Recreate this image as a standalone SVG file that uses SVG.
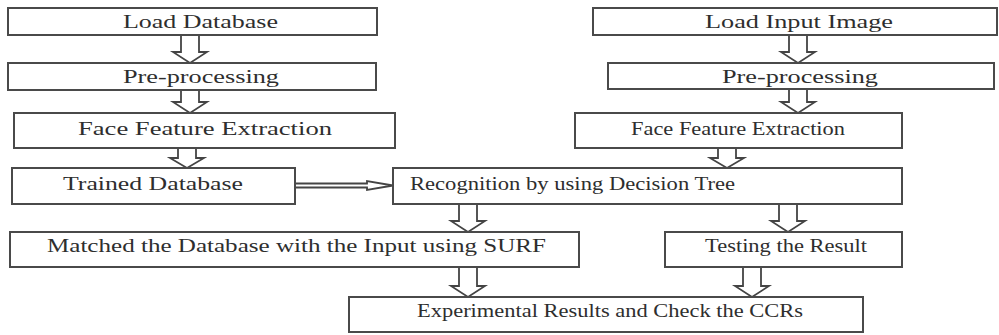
<svg xmlns="http://www.w3.org/2000/svg" width="999" height="335" viewBox="0 0 999 335">
  <style>
    .box { fill: #ffffff; stroke: #4a4a4a; stroke-width: 2; }
    .lbl { font-family: "Liberation Serif", "Times New Roman", serif; font-size: 18px; fill: #2e2e2e; }
    .arw { fill: #ffffff; stroke: #444444; stroke-width: 1.8; stroke-linejoin: miter; }
  </style>
  <rect width="999" height="335" fill="#ffffff"/>

  <!-- block arrows between steps -->
  <g id="connectors">
    <!-- left column -->
    <path class="arw" d="M181,35 V52 H173 L190,63 L207,52 H199 V35"/>
    <path class="arw" d="M181,90 V102 H173 L190,113 L207,102 H199 V90"/>
    <path class="arw" d="M178,148 V158 H170 L187,168 L204,158 H196 V148"/>
    <!-- trained database to recognition -->
    <path class="arw" stroke-width="1.5" d="M295,183.5 H367 V181 L393,185.5 L367,190 V187.5 H295"/>
    <!-- right column -->
    <path class="arw" d="M789,35 V52 H781 L798,63 L815,52 H807 V35"/>
    <path class="arw" d="M789,89 V102 H781 L798,113 L815,102 H807 V89"/>
    <path class="arw" d="M718,148 V158 H710 L727,168 L744,158 H736 V148"/>
    <!-- from recognition -->
    <path class="arw" d="M459,204 V221 H451 L468,232 L485,221 H477 V204"/>
    <path class="arw" d="M779,204 V221 H771 L788,232 L805,221 H797 V204"/>
    <!-- into experimental results -->
    <path class="arw" d="M459,267 V286 H451 L468,297 L485,286 H477 V267"/>
    <path class="arw" d="M743,267 V286 H735 L752,297 L769,286 H761 V267"/>
  </g>

  <g id="load-database">
    <rect class="box" x="8" y="8" width="369" height="27"/>
    <text class="lbl" x="123" y="28" textLength="155" lengthAdjust="spacingAndGlyphs">Load Database</text>
  </g>
  <g id="preprocessing-db">
    <rect class="box" x="8" y="63" width="368" height="27"/>
    <text class="lbl" x="123" y="83" textLength="156" lengthAdjust="spacingAndGlyphs">Pre-processing</text>
  </g>
  <g id="feature-extraction-db">
    <rect class="box" x="14" y="113" width="381" height="35"/>
    <text class="lbl" x="78" y="135" textLength="254" lengthAdjust="spacingAndGlyphs">Face Feature Extraction</text>
  </g>
  <g id="trained-database">
    <rect class="box" x="12" y="168" width="283" height="36"/>
    <text class="lbl" x="63" y="190" textLength="180" lengthAdjust="spacingAndGlyphs">Trained Database</text>
  </g>
  <g id="recognition">
    <rect class="box" x="393" y="168" width="509" height="36"/>
    <text class="lbl" x="410" y="190" textLength="325" lengthAdjust="spacingAndGlyphs">Recognition by using Decision  Tree</text>
  </g>
  <g id="load-input-image">
    <rect class="box" x="593" y="8" width="404" height="27"/>
    <text class="lbl" x="705" y="28" textLength="188" lengthAdjust="spacingAndGlyphs">Load Input Image</text>
  </g>
  <g id="preprocessing-input">
    <rect class="box" x="608" y="63" width="386" height="26"/>
    <text class="lbl" x="722" y="82.5" textLength="156" lengthAdjust="spacingAndGlyphs">Pre-processing</text>
  </g>
  <g id="feature-extraction-input">
    <rect class="box" x="575" y="113" width="327" height="35"/>
    <text class="lbl" x="631" y="134.5" textLength="214" lengthAdjust="spacingAndGlyphs">Face Feature Extraction</text>
  </g>
  <g id="surf-matching">
    <rect class="box" x="10" y="232" width="569" height="35"/>
    <text class="lbl" x="47" y="251.5" textLength="499" lengthAdjust="spacingAndGlyphs">Matched the Database with the Input using SURF</text>
  </g>
  <g id="testing">
    <rect class="box" x="665" y="232" width="237" height="35"/>
    <text class="lbl" x="705" y="251.5" textLength="162" lengthAdjust="spacingAndGlyphs">Testing the Result</text>
  </g>
  <g id="experimental-results">
    <rect class="box" x="349" y="297" width="514" height="35"/>
    <text class="lbl" x="417" y="317" textLength="386" lengthAdjust="spacingAndGlyphs">Experimental Results and Check the CCRs</text>
  </g>
</svg>
